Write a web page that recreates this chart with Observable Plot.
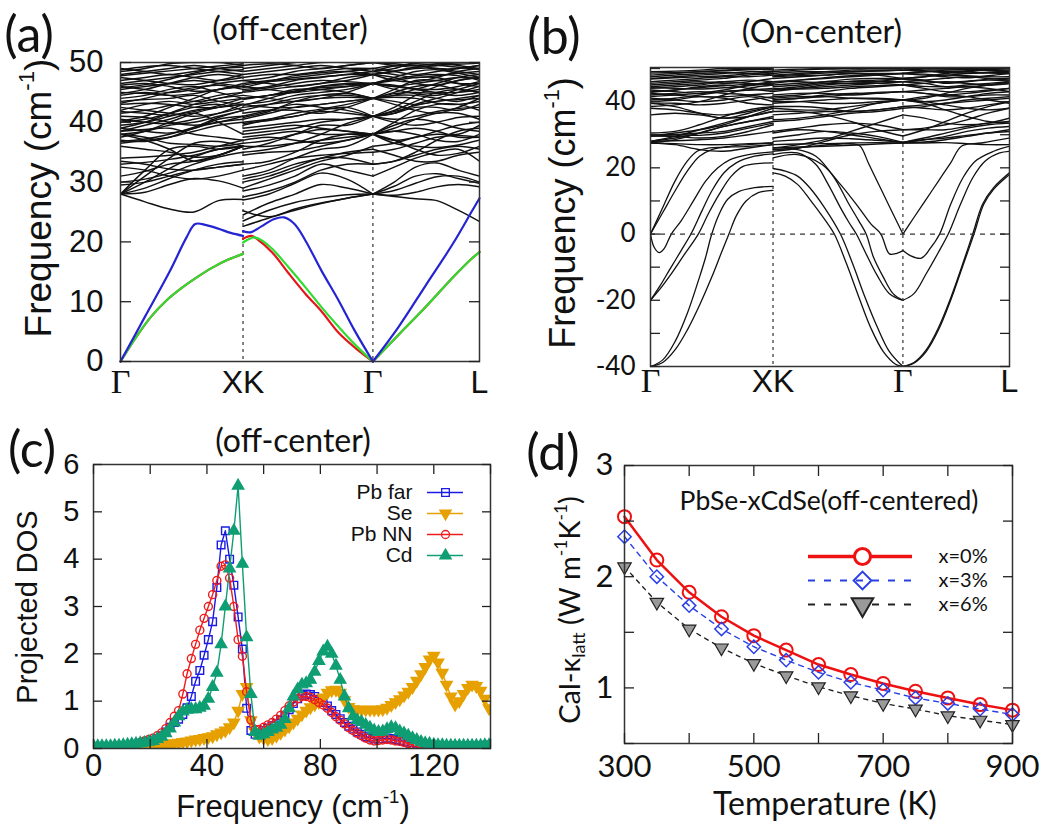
<!DOCTYPE html>
<html><head><meta charset="utf-8">
<script src="https://cdn.jsdelivr.net/npm/d3@7"></script>
<script src="https://cdn.jsdelivr.net/npm/@observablehq/plot@0.6"></script>
<style>
body{margin:0;background:#fff;}
#root{position:relative;width:1051px;height:829px;overflow:hidden;background:#fff;color:#111;}
.abs{position:absolute;white-space:nowrap;line-height:1;}
</style></head><body><div id="root"></div>
<script>
const SANS = '"Liberation Sans", Arial, sans-serif';
const CAL = 'Lato, "Open Sans", sans-serif';
const SERIF = '"Liberation Serif", "DejaVu Serif", serif';

// ---------- Panel (a): off-center dispersion ----------
const symK = [0, 1, 2.06, 2.93];
const symLab = ["Γ", "XK", "Γ", "L"];
const kCoarse = [0,.2,.4,.6,.8,1, 1,1.212,1.424,1.636,1.848,2.06, 2.06,2.234,2.408,2.582,2.756,2.93];
const ticksA = [0,10,20,30,40,50];
const bandsA = [
 [28,26.7,25.5,25,26.9,27.1, 25.2,24.2,25.5,26.5,27.3,28, 28,27.6,27.2,26.9,25.3,23.4],
 [28,28.3,29.6,30.6,30.2,29, 22.6,24,25.3,26.4,27.3,28, 28,27.8,28.3,29.2,29.6,29.2],
 [28,29,30.6,32,33,33.4, 23.5,25.3,26.6,27.4,27.9,28, 28,28.6,29.8,30.9,31,30],
 [28,30,32.3,34.2,35.5,36, 24.5,26.5,28,29.6,29,28, 28,29.3,31,31.4,30.6,29.8],
 [28,31,34,36.5,36.8,36, 27,28,29.8,31.5,30.5,28, 28,30,32.5,33.2,32,31],
 [28,32,35.5,36,35.5,36, 28.5,29.5,31,33,32,31, 31,32.5,34,35,35.5,33.5],
 [31,31.8,33,33.5,34.5,36, 30,31,32.5,34,34,33, 33,33.5,34.5,35.5,36,35.5],
 [33,33.3,33.8,34.5,35.5,36, 31,32,34,35.5,36,38, 38,37,35.5,34.5,34.8,36],
 [34,34.2,34.5,35,36,37, 34.5,35,35.2,36,37,38, 38,36.5,36,35.8,36.2,37],
 [36,35.5,35,34.2,34.5,36, 36,36,36.5,37,37.5,38, 38,38.5,39,38.5,37.5,37.5],
 [38,37,35.5,33.5,34.5,36, 37,37.5,37,36.5,37,38, 38,39.5,40.5,40,39,38.5],
 [38,37.5,36.5,36.3,36,36.5, 37.5,38,38.5,38,38,38, 38,37,37.5,38.5,39.5,40],
 [38.5,38.8,39,38,37.5,37, 38.5,39,39.5,39,38.5,38, 38,40,42,43,43,42],
 [38.5,39.5,40.5,41.5,40,38, 39,39.5,40,40.5,40.5,41, 41,40,39.5,40,40.8,41],
 [39,38.5,38.2,39,40.5,41, 40,40.5,41,42,42.5,41, 41,41.5,42.5,42.5,42,43],
 [40,40.5,41.5,42.5,43,42, 40.5,41.5,42.5,43,43.5,44, 44,43,42,41.5,42.5,44],
 [41,40.8,40,39.5,40,41, 41.5,42,42,41.5,42.5,44, 44,44.5,44.5,44,43.5,44.5],
 [42.5,42,41.5,41,41.5,42.5, 42,43,44,44.5,44.5,44, 44,45,46,46.2,45.5,45],
 [43.5,43.8,44,44.5,43.5,43, 43,43.5,44.5,45,45.5,46.5, 46.5,46,45.5,45,45,45.5],
 [44,44.5,45.5,46,45,44, 44,44.5,45,46,46.5,46.5, 46.5,47,47.5,47.5,46.5,46],
 [44.5,45,44.5,43.5,44,45, 45,45.5,46,46.5,47,48, 48,47.5,46.5,46.2,47,47.5],
 [45.5,46,46.5,47,46.5,46, 45.5,46,47,47.5,48,48, 48,48.5,49,49,48.5,48],
 [46,45.5,45,45.5,46.5,47, 46.5,47,47.5,48,48.5,49, 49,48.5,48,48.5,49,49.5],
 [47,47.5,48,47.5,47,47.5, 47,47.5,48.5,49,49.5,50, 50,49.5,49.2,49.5,50,50],
 [47.5,47,46.5,46.3,47,48, 48,48.5,49,49.5,49,48.5, 48.5,48,47.5,47.8,48.2,48.5],
 [48,48.5,49,49.5,49,48.5, 48.5,49,49.5,50,50,50, 48.5,49,50,50,49.5,49],
 [48.5,49,49.8,50,50,49.5, 49,49.5,50,50.5,50.5,50.5, 50,50.5,50.5,50.5,50.5,50.5],
 [39.5,40,41,42,42.5,43.5, 41,42,43,42.5,42,41, 41,41.5,43,44,45,46],
 [41.5,42,42.8,43.5,44.5,45, 43,42.5,42.5,43,43.5,44, 44,43.5,43,43.5,44,44.5],
 [42,43,43.5,43,43.5,44, 44.5,44,43.5,44,45,46.5, 46.5,45.5,44.8,44.5,45.5,46.5],
 [45,44.8,44.5,44.8,45.5,46, 46,45.5,45,45.5,46,46.5, 46.5,46,46.5,47,47.5,47.3],
 [36.5,37,37.5,38.5,39.5,40, 33,33.5,35,37,38,38, 38,38.5,38,37,36.8,38],
 [37,36.8,37.5,39,40,40.5, 35.5,36.5,38,39.5,39.5,41, 41,40.5,41,41.8,42.3,42.5],
 [38,38.5,39.5,40,41,42, 38,38.5,39,40,40.5,41, 41,42,43.5,45,45.5,45],
 [39,40,41.5,43,44,44.5, 39.5,40.5,41.5,42.2,43,44, 44,45.5,47,47,46.5,46.5],
 [29.5,30,31,32,32.5,33, 27.5,28.5,30,32,33,33, 33,33.5,35,37,38.5,39],
 [30,30.5,31.5,33,34.2,35, 29,30.5,32,33.5,34.5,36, 36,36.5,37.5,38,38,39.5],
 [32.5,32,31,30.5,31,32, 30.5,31.5,33,34,35,35.5, 35.5,34.5,33.5,33.5,34.5,35],
 [33.5,33,32.2,32,32.5,33, 32,33,34,34.5,34.8,35, 35,35.5,36.5,37.5,37.8,37.5],
 [46.5,47,47.5,48,48.5,48.8, 44,44.5,45.5,45.5,45,44, 44,44.5,45.5,46.5,47.5,48],
 [49,48.5,48,48.5,49,49.5, 47.5,48,48,48.5,49,49, 49,49.5,49.5,49,49,49.5],
 [44.8,45.5,46.5,47.5,48,47.5, 47,46.5,46,46.5,47.5,48, 48,47,46.8,47.5,48.5,49],
 [46.2,46.5,46,45.2,45.5,46.5, 45.2,45.8,46.5,47,46.8,46.5, 46.5,47.5,48.5,48.8,48.2,47.5],
 [43,43.2,43,42.5,42.5,43, 42.5,43,43.5,44,44.2,44, 44,44.8,45,44.8,44.5,45],
 [40.5,40,39.8,40.5,41.5,43, 39.8,40.3,41,41.8,41.5,41, 41,42.5,44.5,46,47,47.5],
 [48.8,49.3,49.5,49,48.5,48, 49.5,49.8,49.5,49,49.5,50, 50,49.8,49.5,49.8,50,50],
 [37.5,38.5,40,41.5,42.5,43, 36.5,37,38,38.8,38.5,38, 38,39,40.5,41.5,41.5,40.5],
 [40.2,41,42.5,44,45.5,46, 40.8,41.8,43.5,44.5,44.8,44, 44,44.2,44,43.2,43,43.5],
 [43.2,44,45,45.8,46.2,45.5, 42.8,44,45.2,46,46.3,46.5, 46.5,47.2,47.8,48,47.8,47],
 [45.8,46.3,47.2,48.2,49,49.2, 45.8,46.8,47.8,48.3,48.5,48, 48,48.6,49.2,49.5,49.2,48.8],
 [47.8,48.2,48.6,49,49.4,49.8, 46.2,46.8,47.2,47.6,48,48.5, 48.5,49.4,49.8,49.6,49.7,49.9],
 [41.8,41.5,41.2,41.8,42.8,44, 43.8,44.5,45.2,45.8,46,46.5, 46.5,46.2,45.6,45.5,46,46.8],
 [36.8,37.2,38,39.2,40.8,42, 35,35.5,36.5,38,39.8,41, 41,41.8,42.8,43.5,43.8,44]
];
const blueA = [
 [[0,0],[0.2,7.5],[0.4,15],[0.54,20.8],[0.61,23],[0.7,22.8],[0.8,22.2],[0.9,21.5],[1,21]],
 [[1,21.8],[1.06,21.6],[1.15,22.6],[1.25,23.8],[1.335,24.1],[1.42,23],[1.51,20.2],[1.64,15.2],[1.78,10.2],[1.91,5.2],[2.06,0]],
 [[2.06,0],[2.27,5.8],[2.49,12.7],[2.71,19.6],[2.87,25.2],[2.93,27.3]]
];
const greenA = [
 [[0,0],[0.125,4],[0.25,7.5],[0.375,10.2],[0.5,12.3],[0.625,14.1],[0.75,15.7],[0.875,17],[1,18]],
 [[1,19.9],[1.05,20.5],[1.094,20.75],[1.15,20.3],[1.24,18.8],[1.37,15.8],[1.51,12.4],[1.64,9.1],[1.78,5.8],[1.92,2.7],[2.06,0]],
 [[2.06,0],[2.28,4.7],[2.49,9.1],[2.71,14],[2.85,16.9],[2.93,18.3]]
];
const redA = [
 [[0,0],[0.125,4],[0.25,7.5],[0.375,10.2],[0.5,12.3],[0.625,14.1],[0.75,15.7],[0.875,17],[1,18]],
 [[1,20.5],[1.067,21],[1.12,20.4],[1.24,18.2],[1.37,14.8],[1.51,11.3],[1.64,8.4],[1.78,4.8],[1.92,2.2],[2.06,0]],
 [[2.06,0],[2.28,4.7],[2.49,9.1],[2.71,14],[2.85,16.9],[2.93,18.3]]
];

// ---------- Panel (b): on-center dispersion ----------
const ticksB = [-40,-30,-20,-10,0,10,20,30,40,50];
const labelsB = [-40,-20,0,20,40];
const bandsB = [
 [27.5,27.3,27,27,27.3,27.5, 27,27.2,27.3,27.5,27.6,27.5, 27.5,27.5,27.6,27.3,27,27],
 [27.5,27,25.5,25,26,27, 26,26.3,26.5,26.8,27.2,27.5, 27.5,27.8,28.5,29.5,30.5,31],
 [28,28.2,28.5,29,30,31, 28,28.5,29,28.8,28.3,27.7, 27.7,28.5,29,29.8,30.5,31.5],
 [28,29,30.5,32.5,34,35, 29,30,31,30.5,29.5,27.7, 27.7,28.5,29.5,31,32,32.5],
 [29.6,29.5,29,29.5,31,33, 30.5,31.5,31,30,28.8,27.7, 27.7,29,30.5,32,33,33.5],
 [29.6,30.5,31.5,33,35.5,38, 37,37,36,34,31.5,29.6, 29.6,31.5,34,36.5,38.5,40],
 [30.5,31,33,35.5,37.5,38.5, 34.5,35,36,37.5,39.5,40.5, 40.5,39.5,37.5,35.5,34,33.5],
 [38,37.5,36.5,36,37,38.5, 38.5,38.5,38,37,37.5,38.5, 38.5,38,37.5,38,39,40],
 [39.5,38.5,36.5,35,36.5,38.5, 38,37.5,37.5,38.5,39.5,40.5, 40.5,40,39,38,37.5,38],
 [40,40.5,41.5,41,39.5,39, 39.5,40,40.5,41,41,40.5, 40.5,41.5,42,41.5,40.5,39.5],
 [41,40.5,40,40.5,41.5,40, 40.5,41,42,42.5,42.5,43, 43,42.5,41.5,41.5,42,42],
 [42,42.5,43,42.5,42,41, 41.5,42,43,44,44.5,45, 45,44,43,43,43.5,44],
 [43,43.5,44.5,45,44,43, 43,44,45,45.5,45.5,45, 45,45.5,46,45.5,45,45.5],
 [44,44.5,45,46,46.5,46, 44.5,45,46,46.8,47,47, 47,46.5,45.5,46,46.8,47],
 [45,45.5,46,45.5,46,47, 46,46.5,47,47.5,48,48.5, 48.5,48,47.5,47.2,47.8,48.5],
 [46,46.5,47,47.5,47.5,48, 47,47.5,48,48.5,48,47, 47,47.5,48.5,49,49.5,49],
 [47,47.5,48,48.5,49,49, 48,48.5,49,49.5,49.5,49.5, 49.5,49.3,49,49.3,49.6,50],
 [48,48.5,49,49.5,49.8,49.5, 49,49.5,49.8,50,50,50, 50,50,49.8,50,50,50],
 [49,49.2,49.5,50,50,50, 49.5,49.8,50,50,50,50, 48.5,49,49.5,49.7,49.5,49],
 [38.5,39,40,42,44,45, 40,40,39.5,39.5,40,40.5, 40.5,41,42.5,44,45,46],
 [41.5,42,42.5,43.5,45,46, 42,42.5,42.5,42,42.5,43, 43,43.5,44,44.5,44,43],
 [28,29.5,31.5,33.5,35.5,37, 31,32,33,33.5,33,31.5, 31.5,31.5,31.5,32.5,33.5,34],
 [27.5,28.5,30.5,32.5,34,35.5, 26,27,28.5,31,33.5,36, 36,35,33.5,33,33.5,35],
 [29.6,30,30.5,31,32.5,34, 25,26,28,30,31,31.5, 31.5,32,33,34.5,36.5,38],
 [30,30,29.8,30.5,32,33.5, 36,36.5,37,37,37.5,38.5, 38.5,39,39.5,40,40.5,41],
 [36,36.5,36,35,35.5,37, 34,34.5,35.5,36.5,37,38, 38,38.5,39.5,40.5,41,41.5],
 [43.5,43,42.5,43,43.5,43.5, 45,45.5,46,46,46,46, 46,46.5,47,47.5,47,46.5],
 [45.5,46,46.5,47,48,48.5, 46,46,45.5,45.5,46,47, 47,47.5,48,47.8,47.5,47.5],
 [42.5,42,41.5,41.5,42,42.5, 43.5,44,44.5,45,45.5,46, 46,45.5,44.5,44.5,45,45.5],
 [39.5,39.5,39,39.5,40.5,41.5, 41,41.5,41.5,41,40.8,40.5, 40.5,40,40.5,41.5,42.5,43],
 [44.5,45,45.5,46,45.5,45, 47.5,47.8,48,48.5,48.5,48.5, 48.5,48.3,48,48.5,48.8,48.8],
 [47.5,48,48.5,48.8,48.5,48, 48.5,49,49,49,49.2,49.5, 49.5,49.8,50,50,49.5,49.5],
 [42.8,43.5,44.2,44.8,45.2,45.5, 43.8,44.5,45.5,46.2,46.5,46.8, 46.8,46.2,45.8,46.2,46.5,46.2],
 [46.8,47.2,47.5,47.8,48.4,49, 45.5,46.5,47.2,47.8,48.2,48.5, 48.5,49,49.2,49,48.6,48.5],
 [44.2,44,43.8,44.2,44.8,45.5, 44,43.8,44,44.5,44.8,45, 45,44.6,44.5,45,45.5,46],
 [48.6,48.8,49,49.3,49.6,49.8, 47.8,48.2,48.6,49,49.3,49.5, 49.5,49.2,48.8,48.6,48.9,49.3],
 [40.5,41,42,43,43.5,44, 40.5,41,41.5,42.2,42.8,43, 43,42.5,42,42.5,43.2,44]
];
const lowBandsB = [
 [[0,-40],[0.1,-38],[0.2,-32.5],[0.3,-24],[0.4,-13],[0.45,-7],[0.5,0],[0.56,6],[0.63,10.5],[0.72,12.8],[0.85,14],[1,14.4]],
 [[0,-40],[0.1,-38.8],[0.2,-35],[0.3,-29],[0.4,-21.5],[0.5,-13],[0.58,-5.5],[0.64,0],[0.7,5.5],[0.78,10],[0.88,12.5],[1,13.2]],
 [[0,-20],[0.08,-15.5],[0.16,-10.5],[0.25,-5],[0.33,0],[0.42,7],[0.5,13],[0.6,18.5],[0.7,21.5],[0.85,23.5],[1,24.2]],
 [[0,-20],[0.08,-16.5],[0.16,-12.5],[0.27,-6.5],[0.39,0],[0.47,6],[0.56,12],[0.66,17.5],[0.76,20.5],[0.87,21.3],[1,21.5]],
 [[0,0],[0.03,-4],[0.07,-5.6],[0.11,-4.5],[0.17,0],[0.25,4],[0.35,10],[0.45,16],[0.55,20],[0.65,22.5],[0.8,24],[1,24.8]],
 [[0,0],[0.1,6.5],[0.2,13],[0.3,19],[0.4,23.5],[0.5,25.5],[0.65,26.5],[0.8,27],[1,27.5]],
 [[0,0],[0.1,8],[0.2,16],[0.3,22],[0.38,25],[0.48,26],[0.6,26.2],[0.8,26.5],[1,27]],
 [[1,18.5],[1.1,17.5],[1.2,15],[1.3,10.5],[1.42,4.5],[1.5,0],[1.6,-9],[1.7,-19],[1.8,-28.5],[1.9,-35.5],[2,-39.3],[2.06,-40]],
 [[1,19.8],[1.1,19],[1.2,17.5],[1.3,14],[1.42,8],[1.55,0],[1.65,-9],[1.75,-19],[1.85,-28],[1.95,-35.5],[2.06,-40]],
 [[1,24],[1.2,24.5],[1.35,21],[1.45,15],[1.55,8],[1.62,3.5],[1.68,0],[1.76,-6],[1.85,-12.5],[1.95,-18],[2.06,-20]],
 [[1,25.5],[1.2,25.5],[1.35,23.5],[1.5,17],[1.62,9],[1.7,4],[1.76,0],[1.82,-7],[1.9,-13],[1.98,-18],[2.06,-20]],
 [[1,23],[1.2,24],[1.4,21],[1.55,15],[1.7,8],[1.8,3],[1.88,0],[1.95,-6],[2.01,-5.8],[2.06,-5]],
 [[1,25.5],[1.2,26],[1.4,26.8],[1.55,27.2],[1.65,27.2],[1.71,26.6],[1.78,21.3],[1.86,15.2],[1.94,9.1],[2.06,0]],
 [[2.06,0],[2.15,5],[2.25,10.5],[2.35,16],[2.45,21.5],[2.54,26.6],[2.7,27.5],[2.93,29]],
 [[2.06,-5],[2.12,-6.5],[2.21,-7.3],[2.28,-4.5],[2.36,0],[2.45,9],[2.55,17],[2.65,22],[2.8,25],[2.93,26.5]],
 [[2.06,-20],[2.15,-18],[2.25,-12],[2.35,-5.5],[2.43,0],[2.53,9],[2.63,17],[2.73,22],[2.85,24.5],[2.93,25]],
 [[2.06,-40],[2.15,-39],[2.25,-35.5],[2.35,-29],[2.45,-20],[2.55,-9.5],[2.64,0],[2.72,9],[2.8,13.5],[2.93,18]],
 [[2.06,-40],[2.15,-38.8],[2.25,-35],[2.35,-28.3],[2.45,-19.3],[2.55,-8.8],[2.63,0],[2.71,9],[2.8,14],[2.93,18.5]]
];

// ---------- Panel (c): projected DOS ----------
const freqC = d3.range(0, 140, 1.5); // sampling grid, 1.5 cm-1 step
const pbFar = [0.03,0.03,0.03,0.03,0.04,0.04,0.05,0.05,0.06,0.07,
 0.08,0.1,0.12,0.14,0.17,0.21,0.27,0.35,0.45,0.55,
 0.62,0.72,0.86,1.1,1.42,1.65,1.97,2.3,2.68,3.4,
 4.3,4.6,4.0,3.45,2.78,2.1,0.85,0.38,0.3,0.32,
 0.38,0.43,0.48,0.53,0.6,0.7,0.82,0.95,1.05,1.12,
 1.15,1.14,1.1,1.04,0.97,0.9,0.8,0.72,0.63,0.55,
 0.47,0.41,0.35,0.3,0.25,0.22,0.2,0.2,0.21,0.22,
 0.21,0.19,0.17,0.15,0.13,0.12,0.11,0.1,0.09,0.08,
 0.07,0.06,0.06,0.05,0.05,0.05,0.05,0.05,0.05,0.06,0.06,0.06,0.07,0.07];
const se = [0,0,0,0,0,0.01,0.01,0.01,0.02,0.02,
 0.03,0.03,0.04,0.05,0.06,0.07,0.08,0.09,0.1,0.11,
 0.12,0.14,0.15,0.17,0.19,0.2,0.22,0.24,0.26,0.3,
 0.34,0.38,0.45,0.55,0.8,1.15,1.3,0.6,0.35,0.25,
 0.22,0.2,0.22,0.27,0.33,0.4,0.47,0.55,0.63,0.72,
 0.8,0.87,0.93,0.98,1.08,1.18,1.23,1.24,1.18,1.02,
 0.88,0.83,0.82,0.82,0.82,0.82,0.82,0.82,0.83,0.86,
 0.92,0.98,1.04,1.12,1.2,1.3,1.43,1.57,1.72,1.88,
 1.96,1.82,1.6,1.35,1.1,0.93,1.0,1.15,1.28,1.35,1.32,1.22,1.05,0.85];
const pbNN = [0.02,0.02,0.02,0.02,0.02,0.03,0.03,0.04,0.05,0.07,
 0.1,0.13,0.16,0.19,0.22,0.27,0.33,0.42,0.55,0.68,
 0.8,1.15,1.58,1.9,2.2,2.5,2.75,3.0,3.25,3.55,
 3.85,3.88,3.6,3.0,2.3,1.95,1.2,0.6,0.4,0.4,
 0.45,0.5,0.55,0.62,0.7,0.8,0.9,0.98,1.05,1.1,
 1.1,1.08,1.03,0.97,0.92,0.85,0.76,0.67,0.6,0.52,
 0.44,0.38,0.32,0.27,0.22,0.18,0.16,0.17,0.18,0.19,
 0.18,0.16,0.15,0.13,0.1,0.07,0.03,0.01,0,-0.01,
 -0.02,-0.02,-0.02,-0.02,-0.01,0,0.01,0.02,0.02,0.02,0.03,0.03,0.03,0.03];
const cd = [0.05,0.05,0.05,0.05,0.05,0.06,0.06,0.07,0.08,0.09,
 0.1,0.11,0.12,0.14,0.16,0.2,0.25,0.32,0.42,0.55,
 0.68,0.78,0.82,0.83,0.83,0.86,0.9,1.05,1.3,1.6,
 2.2,3.0,3.8,4.6,5.55,3.9,2.35,1.15,0.35,0.27,
 0.3,0.35,0.4,0.44,0.5,0.62,0.85,1.1,1.25,1.35,
 1.38,1.45,1.62,1.85,2.05,2.15,2.0,1.75,1.45,1.1,
 0.85,0.68,0.6,0.56,0.5,0.44,0.38,0.35,0.36,0.41,
 0.45,0.43,0.36,0.32,0.27,0.22,0.18,0.14,0.11,0.1,
 0.08,0.07,0.07,0.06,0.06,0.06,0.06,0.06,0.06,0.06,0.06,0.06,0.07,0.07];
const namesC = ["Pb far", "Se", "Pb NN", "Cd"];
const colorsC = ["#1b1be3", "#e6a000", "#ee1c1c", "#0f9e73"];
const ticksCx = [0,20,40,60,80,100,120,140];
const labelsCx = [0,40,80,120];
const ticksCy = [0,1,2,3,4,5,6];

// ---------- Panel (d): lattice thermal conductivity ----------
const tempD = [300,350,400,450,500,550,600,650,700,750,800,850,900];
const kap0 = [2.54,2.15,1.86,1.64,1.47,1.34,1.21,1.12,1.04,0.97,0.91,0.85,0.80];
const kap3 = [2.36,2.0,1.74,1.53,1.37,1.25,1.14,1.05,0.98,0.91,0.86,0.81,0.76];
const kap6 = [2.09,1.77,1.53,1.36,1.22,1.11,1.01,0.93,0.86,0.81,0.75,0.71,0.67];
const namesD = ["x=0%", "x=3%", "x=6%"];
const ticksDx = [300,400,500,600,700,800,900];
const labelsDx = [300,500,700,900];
const ticksDy = [0.5,1,1.5,2,2.5,3];
const labelsDy = [1,2,3];

// ---------- helpers ----------
const root = document.getElementById("root");
function put(el, left, top) {
  el.style.position = "absolute"; el.style.left = left + "px"; el.style.top = top + "px";
  root.appendChild(el);
}
function label(h, x, y, size, family, rot) {
  const d = document.createElement("div");
  d.className = "abs"; d.innerHTML = h;
  Object.assign(d.style, {left: x + "px", top: y + "px", fontSize: size + "px", fontFamily: family,
    transform: rot ? "translate(-50%,-50%) rotate(-90deg)" : "translate(-50%,-50%)"});
  root.appendChild(d);
}
const SUP = s => `<span style="font-size:0.6em;position:relative;top:-0.75em">${s}</span>`;
const SUB = s => `<span style="font-size:0.62em;position:relative;top:0.3em">${s}</span>`;
const num = d => d < 0 ? "-" + (-d) : String(d);
function gridRecords(bands, ks, tag) {
  const out = [];
  bands.forEach((b, i) => b.forEach((v, j) => out.push({k: ks[j], v, id: tag + i + "-" + Math.floor(j / 6)})));
  return out;
}
function pairRecords(list, tag) {
  const out = [];
  list.forEach((seg, i) => seg.forEach(([k, v]) => out.push({k, v, id: tag + i})));
  return out;
}
const ST = {stroke: "#222", strokeWidth: 1.3};
function tickAxes(xt, yt, len) {
  const m = [];
  const blank = () => "";
  if (xt) {
    m.push(Plot.axisX({anchor: "bottom", ticks: xt, tickSize: -len, tickFormat: blank, label: null, ...ST}));
    m.push(Plot.axisX({anchor: "top", ticks: xt, tickSize: -len, tickFormat: blank, label: null, ...ST}));
  }
  if (yt) {
    m.push(Plot.axisY({anchor: "left", ticks: yt, tickSize: -len, tickFormat: blank, label: null, ...ST}));
    m.push(Plot.axisY({anchor: "right", ticks: yt, tickSize: -len, tickFormat: blank, label: null, ...ST}));
  }
  return m;
}
const symRecs = symK.map((k, i) => ({k, t: symLab[i]}));
function symLabels(dy, fs) {
  return [
    Plot.text(symRecs.filter(d => d.t === "Γ"), {x: "k", text: "t", frameAnchor: "bottom", dy, lineAnchor: "middle", fontSize: fs + 2, fontFamily: SERIF, fill: "#111"}),
    Plot.text(symRecs.filter(d => d.t !== "Γ"), {x: "k", text: "t", frameAnchor: "bottom", dy, lineAnchor: "middle", fontSize: fs, fontFamily: SANS, fill: "#111"})
  ];
}
const inner = symK.slice(1, 3);
const STYLE = {background: "transparent", overflow: "visible"};

// ---------- draw (a) ----------
const pa = Plot.plot({
  width: 525, height: 400, marginLeft: 120, marginRight: 46, marginTop: 62, marginBottom: 39,
  x: {domain: [0, 2.93], axis: null}, y: {domain: [0, 50], axis: null}, style: STYLE,
  marks: [
    Plot.line(gridRecords(bandsA, kCoarse, "a"), {x: "k", y: "v", z: "id", curve: "catmull-rom", stroke: "#111", strokeWidth: 1.45, clip: true}),
    Plot.ruleX(inner, {stroke: "#333", strokeWidth: 1.2, strokeDasharray: "3,4"}),
    Plot.line(pairRecords(redA, "r"), {x: "k", y: "v", z: "id", curve: "catmull-rom", stroke: "#e3161b", strokeWidth: 2.2}),
    Plot.line(pairRecords(greenA, "g"), {x: "k", y: "v", z: "id", curve: "catmull-rom", stroke: "#2fdc2f", strokeWidth: 2.2}),
    Plot.line(pairRecords(blueA, "b"), {x: "k", y: "v", z: "id", curve: "catmull-rom", stroke: "#2424d2", strokeWidth: 2.2}),
    Plot.frame({stroke: "#333", strokeWidth: 1.5}),
    ...tickAxes(null, ticksA, 11),
    Plot.axisY({anchor: "left", ticks: ticksA, tickSize: 0, tickPadding: 17, fontSize: 31, fontFamily: SANS, label: null, fill: "#111", tickFormat: num}),
    ...symLabels(21, 32)
  ]
});
put(pa, 0, 0);

// ---------- draw (b) ----------
const pb = Plot.plot({
  width: 526, height: 400, marginLeft: 125, marginRight: 42, marginTop: 67, marginBottom: 34,
  x: {domain: [0, 2.93], axis: null}, y: {domain: [-40, 50.3], axis: null}, style: STYLE,
  marks: [
    Plot.line(gridRecords(bandsB, kCoarse, "h"), {x: "k", y: "v", z: "id", curve: "catmull-rom", stroke: "#111", strokeWidth: 1.4, clip: true}),
    Plot.line(pairRecords(lowBandsB, "l"), {x: "k", y: "v", z: "id", curve: "catmull-rom", stroke: "#111", strokeWidth: 1.3, clip: true}),
    Plot.ruleX(inner, {stroke: "#333", strokeWidth: 1.2, strokeDasharray: "3,4"}),
    Plot.ruleY([0], {stroke: "#333", strokeWidth: 1.2, strokeDasharray: "5,5"}),
    Plot.frame({stroke: "#333", strokeWidth: 1.5}),
    ...tickAxes(null, ticksB, 10),
    Plot.axisY({anchor: "left", ticks: labelsB, tickSize: 0, tickPadding: 15, fontSize: 26, fontFamily: CAL, label: null, fill: "#111", tickFormat: num}),
    ...symLabels(15, 32)
  ]
});
put(pb, 525, 0);

// ---------- draw (c) ----------
const seriesC = [pbFar, se, pbNN, cd];
const symbolsC = ["square", "triangle", "circle", "triangle"];
const sizeC = [4.3, 4.2, 4, 4.2];
const marksC = [];
seriesC.forEach((vals, s) => {
  const recs = freqC.map((f, i) => ({f, v: vals[i]}));
  marksC.push(Plot.line(recs, {x: "f", y: "v", stroke: colorsC[s], strokeWidth: 1.4, clip: true}));
  const filled = s === 1 || s === 3;
  marksC.push(Plot.dot(recs, {x: "f", y: "v", symbol: symbolsC[s], r: sizeC[s], rotate: s === 1 ? 180 : 0,
    stroke: colorsC[s], strokeWidth: 1.4, fill: filled ? colorsC[s] : "none", clip: true}));
});
const pc = Plot.plot({
  width: 525, height: 429, marginLeft: 93, marginRight: 35, marginTop: 64, marginBottom: 81,
  x: {domain: [0, 140], axis: null}, y: {domain: [0, 6], axis: null}, style: STYLE,
  marks: [
    ...marksC,
    Plot.frame({stroke: "#333", strokeWidth: 1.5}),
    ...tickAxes(ticksCx, ticksCy, 9),
    Plot.axisY({anchor: "left", ticks: ticksCy, tickSize: 0, tickPadding: 14, fontSize: 29, fontFamily: SANS, label: null, fill: "#111", tickFormat: num}),
    Plot.axisX({anchor: "bottom", ticks: labelsCx, tickSize: 0, tickPadding: 5, fontSize: 31, fontFamily: SANS, label: null, fill: "#111", tickFormat: num})
  ]
});
put(pc, 0, 400);

// legend (c)
const legC = namesC.map((n, i) => ({n, i}));
const legCMarks = [];
legC.forEach(({n, i}) => {
  legCMarks.push(Plot.ruleY([n], {x1: 127, x2: 163, stroke: colorsC[i], strokeWidth: 1.5}));
  legCMarks.push(Plot.dot([n], {x: 145, y: d => d, symbol: symbolsC[i], r: sizeC[i], rotate: i === 1 ? 180 : 0,
    stroke: colorsC[i], strokeWidth: 1.3, fill: (i === 1 || i === 3) ? colorsC[i] : "none"}));
});
const lc = Plot.plot({
  width: 175, height: 108, margin: 0, style: STYLE,
  x: {domain: [0, 175], range: [0, 175], axis: null},
  y: {type: "point", domain: namesC, range: [10, 96], axis: null},
  marks: [
    ...legCMarks,
    Plot.text(legC, {x: 112, y: "n", text: "n", textAnchor: "end", lineAnchor: "middle", fontSize: 21, fontFamily: SANS, fill: "#111"})
  ]
});
put(lc, 300, 470);

// ---------- draw (d) ----------
const styD = [
  {c: "#ee1111", w: 2.5, dash: null, sym: "circle", r: 6.5, fill: "none", sw: 2, rot: 0},
  {c: "#2a3fe6", w: 1.4, dash: "5,5", sym: "diamond2", r: 6, fill: "none", sw: 1.5, rot: 0},
  {c: "#222222", w: 1.4, dash: "4,5", sym: "triangle", r: 5, fill: "#9a9a9a", sw: 1.2, rot: 180}
];
const seriesD = [kap0, kap3, kap6];
const marksD = [];
seriesD.forEach((vals, s) => {
  const recs = tempD.map((t, i) => ({t, v: vals[i]}));
  const o = styD[s];
  marksD.push(Plot.line(recs, {x: "t", y: "v", stroke: o.c, strokeWidth: o.w, strokeDasharray: o.dash}));
  marksD.push(Plot.dot(recs, {x: "t", y: "v", symbol: o.sym, r: o.r, rotate: o.rot, stroke: o.c, strokeWidth: o.sw, fill: o.fill}));
});
const pd = Plot.plot({
  width: 526, height: 429, marginLeft: 99, marginRight: 39, marginTop: 65, marginBottom: 86,
  x: {domain: [300, 900], axis: null}, y: {domain: [0.5, 3], axis: null}, style: STYLE,
  marks: [
    ...marksD,
    Plot.frame({stroke: "#333", strokeWidth: 1.5}),
    ...tickAxes(ticksDx, ticksDy, 10),
    Plot.axisY({anchor: "left", ticks: labelsDy, tickSize: 0, tickPadding: 11, fontSize: 31, fontFamily: CAL, label: null, fill: "#111", tickFormat: num}),
    Plot.axisX({anchor: "bottom", ticks: labelsDx, tickSize: 0, tickPadding: 11, fontSize: 31, fontFamily: CAL, label: null, fill: "#111", tickFormat: num})
  ]
});
put(pd, 525, 400);

// legend (d)
const legD = namesD.map((n, i) => ({n, i}));
const legDMarks = [];
legD.forEach(({n, i}) => {
  const o = styD[i];
  legDMarks.push(Plot.ruleY([n], {x1: 18, x2: 122, stroke: o.c, strokeWidth: i === 0 ? 3.5 : 2, strokeDasharray: i === 0 ? null : "7,9"}));
  legDMarks.push(Plot.dot([n], {x: 72, y: d => d, symbol: o.sym, r: 8, rotate: o.rot, stroke: o.c, strokeWidth: i === 0 ? 3 : 2, fill: i === 0 ? "#fff" : o.fill}));
});
const ld = Plot.plot({
  width: 230, height: 110, margin: 0, style: STYLE,
  x: {domain: [0, 230], range: [0, 230], axis: null},
  y: {type: "point", domain: namesD, range: [18, 92], axis: null},
  marks: [
    ...legDMarks,
    Plot.text(legD, {x: 148, y: "n", text: "n", textAnchor: "start", lineAnchor: "middle", fontSize: 20, fontFamily: CAL, fill: "#111"})
  ]
});
put(ld, 790, 525);

// ---------- titles, panel letters, axis titles ----------
label("(a)", 29, 33, 50, CAL);
label("(off-center)", 290, 28, 32, CAL);
label("(b)", 554, 35, 50, CAL);
label("(On-center)", 822, 31, 32, CAL);
label("(c)", 32, 448, 50, CAL);
label("(off-center)", 293, 440, 32, CAL);
label("(d)", 553, 451, 50, CAL);
label("PbSe-xCdSe(off-centered)", 829, 500, 26.5, CAL);

label("Frequency (cm" + SUP("-1") + ")", 38, 198, 37, SANS, true);
label("Frequency (cm" + SUP("-1") + ")", 563, 213, 36, SANS, true);
label("Projected DOS", 27, 607, 29, SANS, true);
label("Frequency (cm" + SUP("-1") + ")", 293, 806, 31, SANS);
label("Cal-κ" + SUB("latt") + " (W m" + SUP("-1") + "K" + SUP("-1") + ")", 568, 610, 29, CAL, true);
label("Temperature (K)", 825, 803, 32, CAL);
</script></body></html>
